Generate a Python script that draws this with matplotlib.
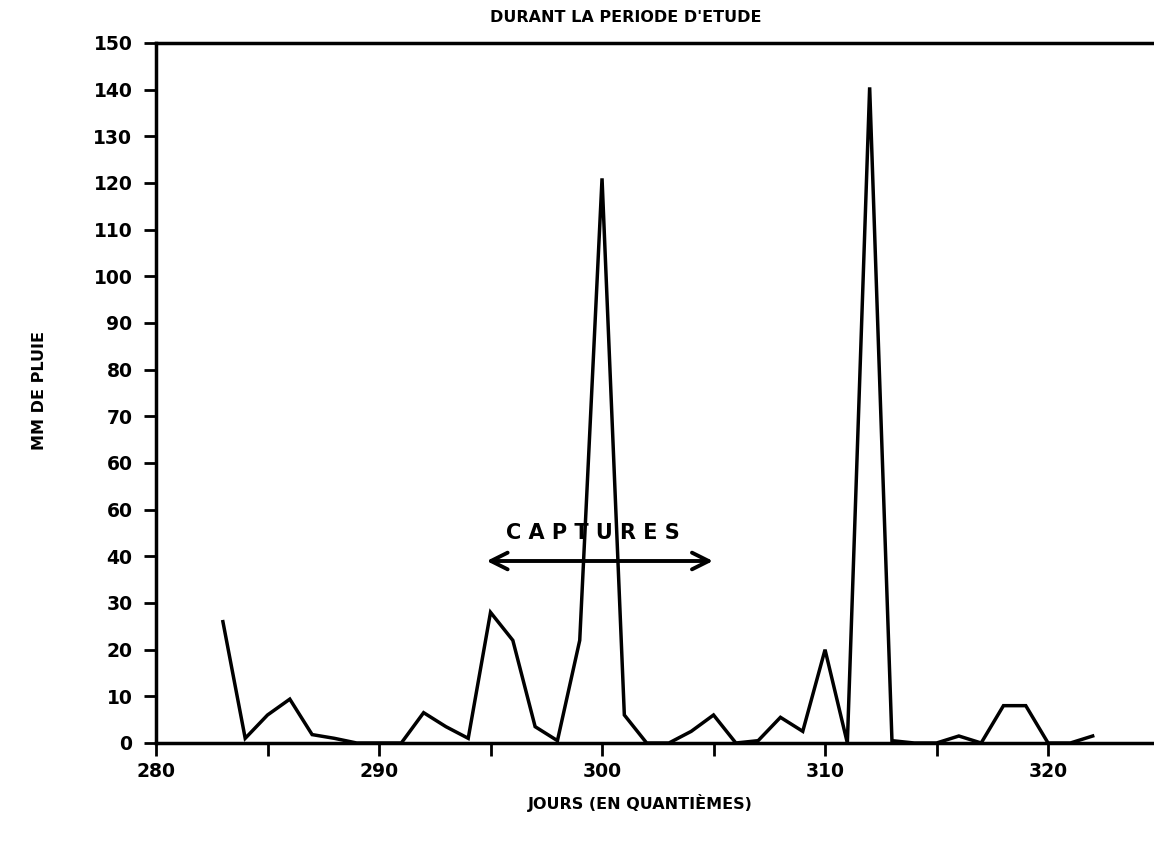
import matplotlib
matplotlib.use("Agg")
import matplotlib.pyplot as plt
from matplotlib.ticker import MultipleLocator

# daily rainfall (mm), days as day-of-year
days = list(range(283, 323))
rain = [26, 1, 6, 9.4, 1.8, 1, 0, 0, 0, 6.5,
        3.5, 1, 28, 22, 3.5, 0.5, 22, 121, 6, 0,
        0, 2.5, 6, 0, 0.5, 5.5, 2.5, 20, 0, 140.5,
        0.5, 0, 0, 1.5, 0, 8, 8, 0, 0, 1.5]

y_ticks = list(range(0, 151, 10))
# the original printout shows "60" twice (the 50 tick is misprinted)
y_labels = ['0', '10', '20', '30', '40', '60', '60', '70', '80', '90',
            '100', '110', '120', '130', '140', '150']
x_ticks = [280, 290, 300, 310, 320]

capture_start, capture_end = 294.7, 305.1

plt.rcParams['font.family'] = 'DejaVu Sans'

fig = plt.figure(figsize=(11.54, 8.41), dpi=100)
ax = fig.add_axes([156 / 1154, 1 - 743 / 841, (1154 - 156) / 1154, (743 - 43) / 841])

ax.plot(days, rain, color='black', lw=2.5, solid_joinstyle='miter')

ax.set_xlim(280, 324.75)
ax.set_ylim(0, 150)
ax.set_yticks(y_ticks)
ax.set_yticklabels(y_labels)
ax.set_xticks(x_ticks)
ax.xaxis.set_minor_locator(MultipleLocator(5))

for s in ['left', 'top', 'bottom']:
    ax.spines[s].set_linewidth(2.5)
ax.spines['right'].set_visible(False)

ax.tick_params(axis='both', which='both', direction='out', length=9, width=2,
               labelsize=13.5, pad=8)
ax.tick_params(axis='x', which='major', pad=5)
for lab in ax.get_xticklabels() + ax.get_yticklabels():
    lab.set_fontweight('bold')

# arrow marking the capture period
ax.annotate('', xy=(capture_start, 39), xytext=(capture_end, 39),
            arrowprops=dict(arrowstyle='<->', lw=2.8, mutation_scale=30,
                            color='black'))
ax.text((capture_start + capture_end) / 2 - 0.3, 45, 'C A P T U R E S', ha='center',
        va='center', fontsize=15, fontweight='bold')

fig.text(626 / 1154, 1 - 17 / 841, "DURANT LA PERIODE D'ETUDE", ha='center',
         va='center', fontsize=11.5, fontweight='bold')
fig.text(640 / 1154, 1 - 803 / 841, 'JOURS (EN QUANTIÈMES)', ha='center',
         va='center', fontsize=11.5, fontweight='bold')
fig.text(40 / 1154, 1 - 390 / 841, 'MM DE PLUIE', ha='center', va='center',
         rotation=90, fontsize=11.5, fontweight='bold')

fig.savefig('out.png', dpi=100)
